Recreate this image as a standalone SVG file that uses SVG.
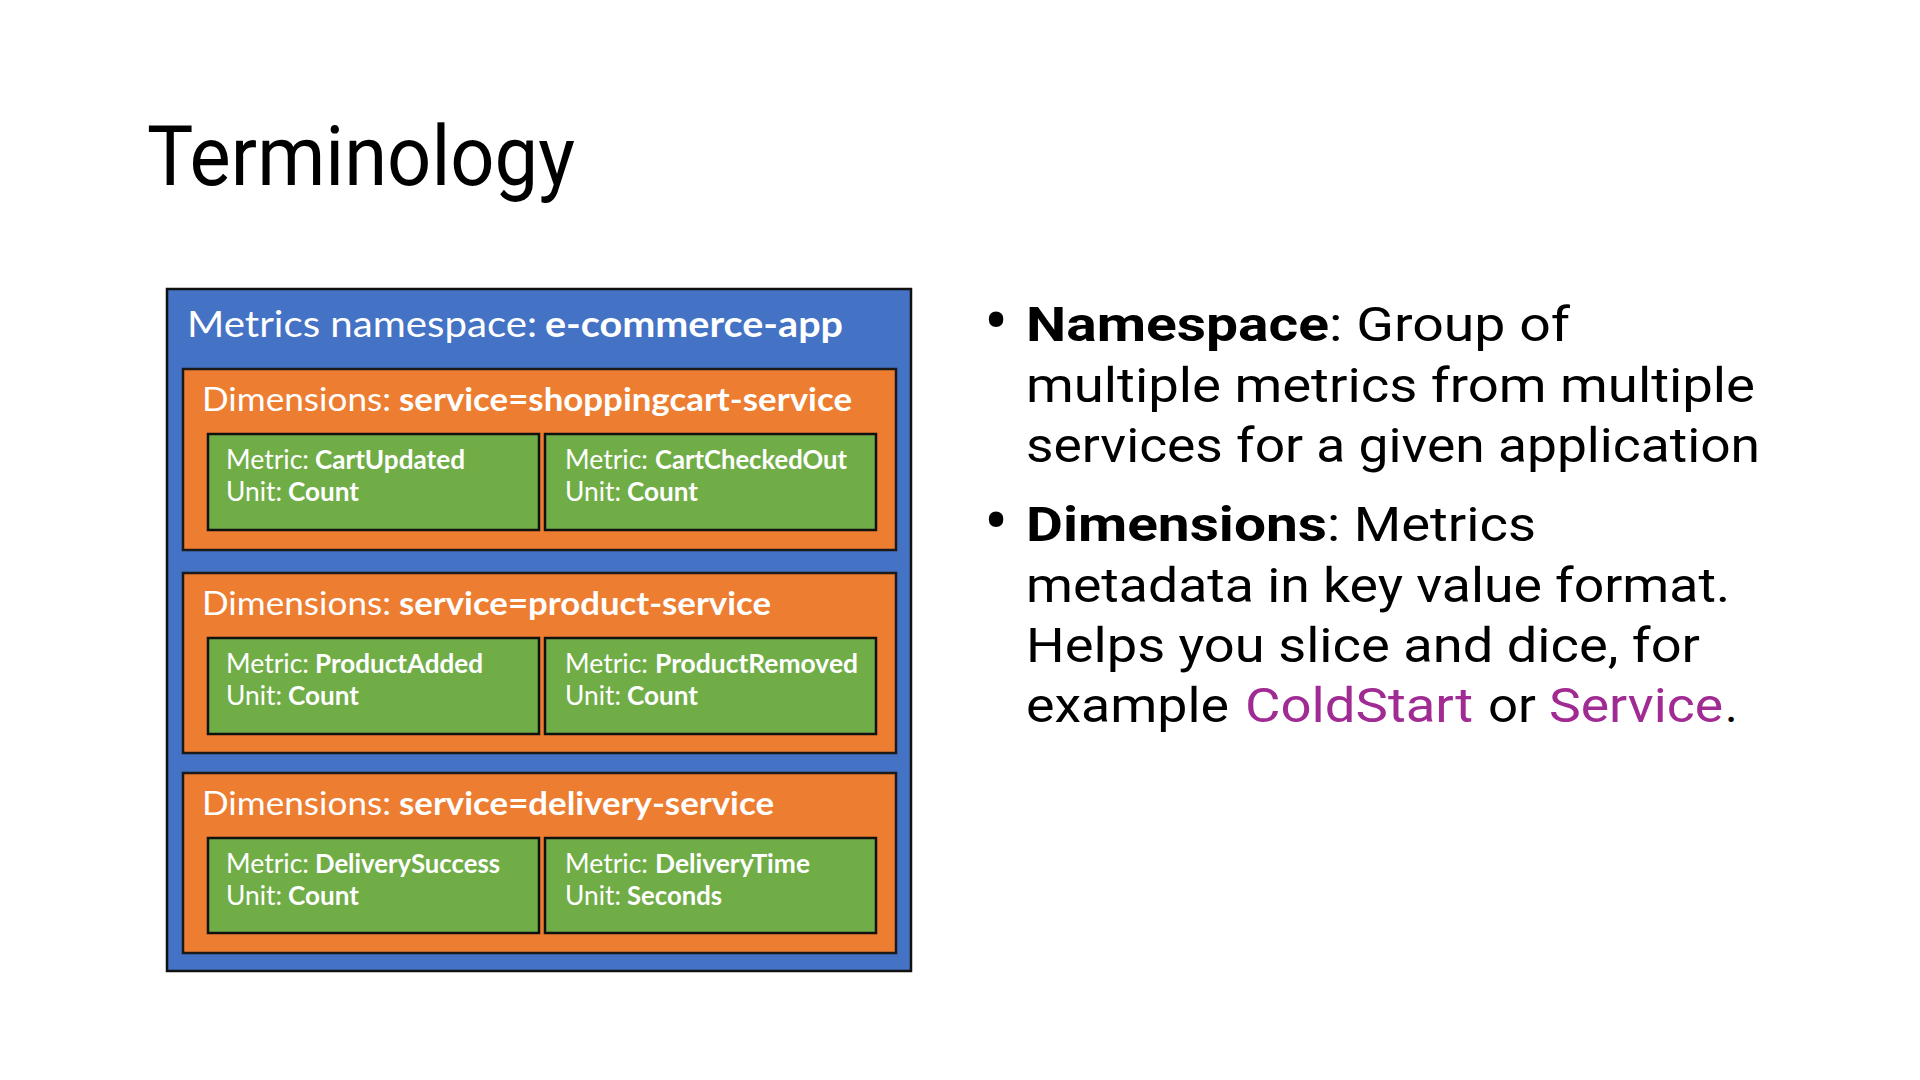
<svg xmlns="http://www.w3.org/2000/svg" width="1920" height="1080" viewBox="0 0 1920 1080">
<style>
.bg{fill:#ffffff}
.ns{fill:#4472C4;stroke:#111;stroke-width:2.5}
.dim{fill:#ED7D31;stroke:#1a1a1a;stroke-width:2.5}
.met{fill:#70AD47;stroke:#111;stroke-width:2.5}
.w{fill:#ffffff;font-family:Lato,"Open Sans","Liberation Sans",sans-serif}
.r{font-weight:400}
.b{font-weight:700}
.t{fill:#000;font-family:Roboto,"Liberation Sans",sans-serif}
.p{fill:#A02B93}
.bul{font-size:72px}
</style>
<rect class="bg" x="0" y="0" width="1920" height="1080"/>
<text class="t" x="147" y="185" font-size="84" textLength="428" lengthAdjust="spacingAndGlyphs">Terminology</text>

<g id="namespace">
<rect class="ns" x="167" y="289" width="744" height="682"/>
<text class="w r" x="187" y="337" font-size="36" textLength="350" lengthAdjust="spacingAndGlyphs">Metrics namespace:</text>
<text class="w b" x="545" y="337" font-size="36" textLength="298" lengthAdjust="spacingAndGlyphs">e-commerce-app</text>
</g>

<g id="dim-shoppingcart">
<rect class="dim" x="183" y="369" width="713" height="181"/>
<text class="w r" x="202" y="411" font-size="32" textLength="189" lengthAdjust="spacingAndGlyphs">Dimensions:</text>
<text class="w b" x="399" y="411" font-size="32" textLength="453" lengthAdjust="spacingAndGlyphs">service=shoppingcart-service</text>
</g>
<g id="metric-cartupdated">
<rect class="met" x="208" y="434" width="331" height="96"/>
<text class="w r" x="226" y="469" font-size="26" textLength="83" lengthAdjust="spacingAndGlyphs">Metric:</text>
<text class="w b" x="315" y="469" font-size="26" textLength="150" lengthAdjust="spacingAndGlyphs">CartUpdated</text>
<text class="w r" x="226" y="501" font-size="26" textLength="56" lengthAdjust="spacingAndGlyphs">Unit:</text>
<text class="w b" x="288" y="501" font-size="26" textLength="71" lengthAdjust="spacingAndGlyphs">Count</text>
</g>
<g id="metric-cartcheckedout">
<rect class="met" x="545" y="434" width="331" height="96"/>
<text class="w r" x="565" y="469" font-size="26" textLength="83" lengthAdjust="spacingAndGlyphs">Metric:</text>
<text class="w b" x="655" y="469" font-size="26" textLength="192" lengthAdjust="spacingAndGlyphs">CartCheckedOut</text>
<text class="w r" x="565" y="501" font-size="26" textLength="56" lengthAdjust="spacingAndGlyphs">Unit:</text>
<text class="w b" x="627" y="501" font-size="26" textLength="71" lengthAdjust="spacingAndGlyphs">Count</text>
</g>

<g id="dim-product">
<rect class="dim" x="183" y="573" width="713" height="180"/>
<text class="w r" x="202" y="615" font-size="32" textLength="189" lengthAdjust="spacingAndGlyphs">Dimensions:</text>
<text class="w b" x="399" y="615" font-size="32" textLength="372" lengthAdjust="spacingAndGlyphs">service=product-service</text>
</g>
<g id="metric-productadded">
<rect class="met" x="208" y="638" width="331" height="96"/>
<text class="w r" x="226" y="673" font-size="26" textLength="83" lengthAdjust="spacingAndGlyphs">Metric:</text>
<text class="w b" x="315" y="673" font-size="26" textLength="168" lengthAdjust="spacingAndGlyphs">ProductAdded</text>
<text class="w r" x="226" y="705" font-size="26" textLength="56" lengthAdjust="spacingAndGlyphs">Unit:</text>
<text class="w b" x="288" y="705" font-size="26" textLength="71" lengthAdjust="spacingAndGlyphs">Count</text>
</g>
<g id="metric-productremoved">
<rect class="met" x="545" y="638" width="331" height="96"/>
<text class="w r" x="565" y="673" font-size="26" textLength="83" lengthAdjust="spacingAndGlyphs">Metric:</text>
<text class="w b" x="655" y="673" font-size="26" textLength="203" lengthAdjust="spacingAndGlyphs">ProductRemoved</text>
<text class="w r" x="565" y="705" font-size="26" textLength="56" lengthAdjust="spacingAndGlyphs">Unit:</text>
<text class="w b" x="627" y="705" font-size="26" textLength="71" lengthAdjust="spacingAndGlyphs">Count</text>
</g>

<g id="dim-delivery">
<rect class="dim" x="183" y="773" width="713" height="180"/>
<text class="w r" x="202" y="815" font-size="32" textLength="189" lengthAdjust="spacingAndGlyphs">Dimensions:</text>
<text class="w b" x="399" y="815" font-size="32" textLength="375" lengthAdjust="spacingAndGlyphs">service=delivery-service</text>
</g>
<g id="metric-deliverysuccess">
<rect class="met" x="208" y="838" width="331" height="95"/>
<text class="w r" x="226" y="873" font-size="26" textLength="83" lengthAdjust="spacingAndGlyphs">Metric:</text>
<text class="w b" x="315" y="873" font-size="26" textLength="185" lengthAdjust="spacingAndGlyphs">DeliverySuccess</text>
<text class="w r" x="226" y="905" font-size="26" textLength="56" lengthAdjust="spacingAndGlyphs">Unit:</text>
<text class="w b" x="288" y="905" font-size="26" textLength="71" lengthAdjust="spacingAndGlyphs">Count</text>
</g>
<g id="metric-deliverytime">
<rect class="met" x="545" y="838" width="331" height="95"/>
<text class="w r" x="565" y="873" font-size="26" textLength="83" lengthAdjust="spacingAndGlyphs">Metric:</text>
<text class="w b" x="655" y="873" font-size="26" textLength="155" lengthAdjust="spacingAndGlyphs">DeliveryTime</text>
<text class="w r" x="565" y="905" font-size="26" textLength="56" lengthAdjust="spacingAndGlyphs">Unit:</text>
<text class="w b" x="627" y="905" font-size="26" textLength="95" lengthAdjust="spacingAndGlyphs">Seconds</text>
</g>

<g id="connectors"></g>

<g id="bullets" font-size="48">
<text class="t bul" x="984" y="346">•</text>
<text class="t" x="1026" y="341" font-weight="700" textLength="303" lengthAdjust="spacingAndGlyphs">Namespace</text>
<text class="t" x="1329" y="341" textLength="241" lengthAdjust="spacingAndGlyphs">: Group of</text>
<text class="t" x="1026" y="402" textLength="729" lengthAdjust="spacingAndGlyphs">multiple metrics from multiple</text>
<text class="t" x="1026" y="462" textLength="734" lengthAdjust="spacingAndGlyphs">services for a given application</text>
<text class="t bul" x="984" y="546">•</text>
<text class="t" x="1026" y="541" font-weight="700" textLength="301" lengthAdjust="spacingAndGlyphs">Dimensions</text>
<text class="t" x="1327" y="541" textLength="209" lengthAdjust="spacingAndGlyphs">: Metrics</text>
<text class="t" x="1026" y="602" textLength="704" lengthAdjust="spacingAndGlyphs">metadata in key value format.</text>
<text class="t" x="1026" y="662" textLength="674" lengthAdjust="spacingAndGlyphs">Helps you slice and dice, for</text>
<text class="t" x="1026" y="722" textLength="203" lengthAdjust="spacingAndGlyphs">example</text>
<text class="t p" x="1245" y="722" textLength="228" lengthAdjust="spacingAndGlyphs">ColdStart</text>
<text class="t" x="1488" y="722" textLength="48" lengthAdjust="spacingAndGlyphs">or</text>
<text class="t p" x="1549" y="722" textLength="174" lengthAdjust="spacingAndGlyphs">Service</text>
<text class="t" x="1725" y="722">.</text>
</g>
</svg>
